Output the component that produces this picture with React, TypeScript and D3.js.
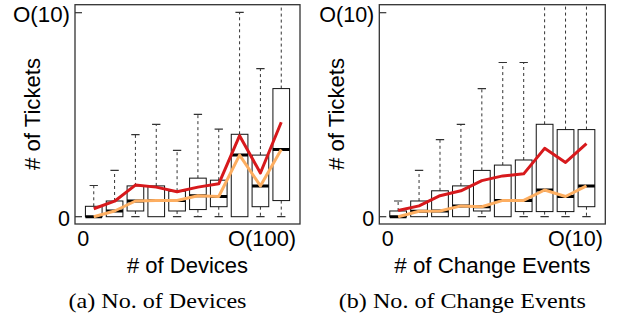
import React from 'react';
import * as d3 from 'd3';

// box positions (one per bucket)
const positions = [1, 2, 3, 4, 5, 6, 7, 8, 9, 10];

// (a) No. of Devices
const devQ1 = [0, 0, 0.28, 0, 0.28, 0.35, 0.49, 0, 0.49, 0.79];
const devMedian = [0, 0.28, 0.77, 0.79, 0.79, 1.03, 0.99, 3.02, 1.51, 3.29];
const devQ3 = [0.51, 0.77, 1.51, 1.51, 1.25, 1.89, 1.79, 4.04, 3.02, 6.28];
const devWhiskerLo = [0, 0, 0, 0, 0, 0, 0, 0, 0, 0];
const devWhiskerHi = [1.53, 2.27, 4.02, 4.53, 3.25, 5.02, 4.29, 10.02, 7.26, 12];
const devMean = [0.39, 0.76, 1.55, 1.45, 1.22, 1.45, 1.61, 3.97, 2.14, 4.63];

// (b) No. of Change Events
const chgQ1 = [0, 0, 0, 0, 0.28, 0, 0.25, 0.25, 0.25, 0.49];
const chgMedian = [0, 0.27, 0.28, 0.53, 0.49, 0.8, 0.8, 1.31, 0.99, 1.51];
const chgQ3 = [0.28, 0.77, 1.27, 1.51, 2.27, 2.53, 2.78, 4.53, 4.27, 4.27];
const chgWhiskerLo = [0, 0, 0, 0, 0, 0, 0, 0, 0, 0];
const chgWhiskerHi = [0.77, 2.27, 3.78, 4.53, 6.28, 7.56, 7.56, 12, 12, 12];
const chgMean = [0.3, 0.53, 1.03, 1.27, 1.77, 2.0, 2.1, 3.35, 2.66, 3.58];

// axis ticks
const yTickValues = [0, 10];
const yTickLabels = ['0', 'O(10)'];
const devXTickValues = [0.5, 9.08];
const devXTickLabels = ['0', 'O(100)'];
const chgXTickValues = [0.5, 9.47];
const chgXTickLabels = ['0', 'O(10)'];

const SANS = '"Liberation Sans", Arial, Helvetica, sans-serif';
const SERIF = '"Liberation Serif", "Times New Roman", serif';
const RED = '#d7191c';
const ORANGE = '#fdae61';

const TOP = 4.7;
const BOTTOM = 224;
const y = d3.scaleLinear().domain([0, 10]).range([216.7, 12.7]);

type PanelProps = {
  id: string;
  left: number;
  right: number;
  q1: number[];
  med: number[];
  q3: number[];
  lo: number[];
  hi: number[];
  mean: number[];
  xTicks: number[];
  xLabels: string[];
  xLabelWidths: number[];
  yLabelWidths: number[];
  xTitle: string;
  xTitleWidth: number;
  caption: string;
  captionWidth: number;
};

function Panel(p: PanelProps) {
  const x = d3.scaleLinear().domain([0.1, 10.9]).range([p.left, p.right]);
  const hw = x(1.4) - x(1);
  const line = d3.line<number>().x((_, i) => x(positions[i])).y((d) => y(d));
  const midX = (p.left + p.right) / 2;

  return (
    <g>
      <defs>
        <clipPath id={p.id}>
          <rect x={p.left} y={TOP} width={p.right - p.left} height={BOTTOM - TOP} />
        </clipPath>
      </defs>
      <g clipPath={`url(#${p.id})`}>
        {positions.map((pos, i) => {
          const cx = x(pos);
          return (
            <g key={i}>
              <line x1={cx} x2={cx} y1={y(p.q3[i])} y2={y(p.hi[i])} stroke="#333" strokeWidth={1} strokeDasharray="3,3" />
              <line x1={cx - hw / 2} x2={cx + hw / 2} y1={y(p.hi[i])} y2={y(p.hi[i])} stroke="#333" strokeWidth={1.2} />
              {p.q1[i] > p.lo[i] && (
                <g>
                  <line x1={cx} x2={cx} y1={y(p.q1[i])} y2={y(p.lo[i])} stroke="#333" strokeWidth={1} strokeDasharray="3,3" />
                  <line x1={cx - hw / 2} x2={cx + hw / 2} y1={y(p.lo[i])} y2={y(p.lo[i])} stroke="#333" strokeWidth={1.2} />
                </g>
              )}
              <rect x={cx - hw} y={y(p.q3[i])} width={2 * hw} height={y(p.q1[i]) - y(p.q3[i])} fill="white" stroke="#111" strokeWidth={1} />
              <line x1={cx - hw} x2={cx + hw} y1={y(p.med[i])} y2={y(p.med[i])} stroke="#000" strokeWidth={3} />
            </g>
          );
        })}
        <path d={line(p.mean) || ''} fill="none" stroke={RED} strokeWidth={3} strokeLinejoin="round" />
        <path d={line(p.med) || ''} fill="none" stroke={ORANGE} strokeWidth={3} strokeLinejoin="round" />
      </g>
      <rect x={p.left} y={TOP} width={p.right - p.left} height={BOTTOM - TOP} fill="none" stroke="#333" strokeWidth={1.3} />
      {yTickValues.map((v, i) => (
        <g key={i}>
          <line x1={p.left} x2={p.left + 7} y1={y(v)} y2={y(v)} stroke="#333" strokeWidth={1.2} />
          <text x={p.left - 5} y={y(v) + 9.5} textAnchor="end" fontFamily={SANS} fontSize={22}
            textLength={p.yLabelWidths[i]} lengthAdjust="spacingAndGlyphs">{yTickLabels[i]}</text>
        </g>
      ))}
      {p.xTicks.map((v, i) => (
        <text key={i} x={x(v)} y={246} textAnchor="middle" fontFamily={SANS} fontSize={22}
          textLength={p.xLabelWidths[i]} lengthAdjust="spacingAndGlyphs">{p.xLabels[i]}</text>
      ))}
      <text transform={`translate(${p.left - 35},114) rotate(-90)`} textAnchor="middle" fontFamily={SANS} fontSize={22}
        textLength={112} lengthAdjust="spacingAndGlyphs"># of Tickets</text>
      <text x={midX} y={273} textAnchor="middle" fontFamily={SANS} fontSize={22}
        textLength={p.xTitleWidth} lengthAdjust="spacingAndGlyphs">{p.xTitle}</text>
      <text x={midX - 30} y={308} textAnchor="middle" fontFamily={SERIF} fontSize={22}
        textLength={p.captionWidth} lengthAdjust="spacingAndGlyphs">{p.caption}</text>
    </g>
  );
}

export default function App() {
  return (
    <svg width={618} height={318} style={{ position: 'absolute', left: 0, top: 0, background: 'white' }}>
      <Panel id="clipA" left={75} right={300} q1={devQ1} med={devMedian} q3={devQ3} lo={devWhiskerLo} hi={devWhiskerHi}
        mean={devMean} xTicks={devXTickValues} xLabels={devXTickLabels} xLabelWidths={[12, 68]} yLabelWidths={[12, 57]}
        xTitle="# of Devices" xTitleWidth={121} caption="(a) No. of Devices" captionWidth={178} />
      <Panel id="clipB" left={379.3} right={605.3} q1={chgQ1} med={chgMedian} q3={chgQ3} lo={chgWhiskerLo} hi={chgWhiskerHi}
        mean={chgMean} xTicks={chgXTickValues} xLabels={chgXTickLabels} xLabelWidths={[12, 55]} yLabelWidths={[12, 55]}
        xTitle="# of Change Events" xTitleWidth={196} caption="(b) No. of Change Events" captionWidth={247} />
    </svg>
  );
}
